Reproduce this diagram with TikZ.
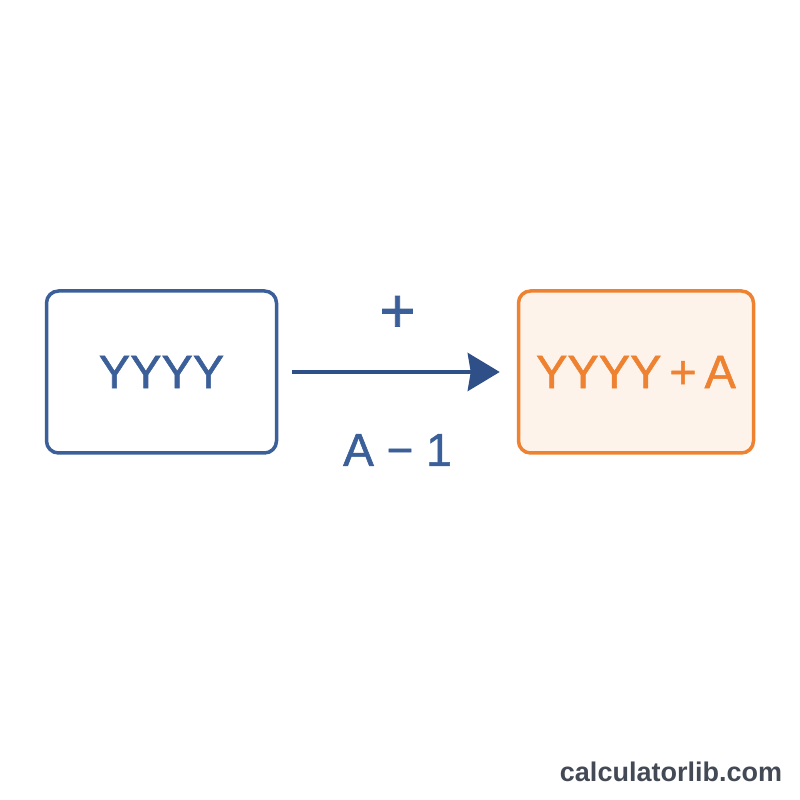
\documentclass[tikz,border=0pt]{standalone}
\usepackage{fontspec}
\setmainfont{Liberation Sans}
\newfontfamily\labelfont{Liberation Sans}[UprightFeatures={FakeBold=1.2}]
\usepackage{xcolor}
\usetikzlibrary{arrows.meta}
\definecolor{boxblue}{HTML}{3B5F98}
\definecolor{arrowblue}{HTML}{2F4F88}
\definecolor{boxorange}{HTML}{EE8230}
\definecolor{fillorange}{HTML}{FEF3EA}
\definecolor{sitegray}{HTML}{434A56}

\begin{document}
\begin{tikzpicture}[x=1pt,y=1pt,every node/.style={rounded corners=12pt, line width=3.5pt, align=center}]
      \useasboundingbox (0,0) rectangle (800,800);
      \node[draw=boxblue, text=boxblue, minimum width=230pt, minimum height=162pt,
            font=\labelfont\fontsize{47}{50}\selectfont] at (161.5, 428) (Year) {YYYY};
      \node[draw=boxorange, fill=fillorange, text=boxorange, minimum width=235pt, minimum height=162pt,
            font=\labelfont\fontsize{47}{50}\selectfont] at (636, 428) (Result) {YYYY\,+\,A};
      \draw[arrowblue, line width=4pt, shorten <=14pt, shorten >=17pt,
            -{Stealth[length=32pt, width=38pt, inset=3pt]}] (Year) -- (Result)
        node[midway, text=boxblue, font=\labelfont\fontsize{62}{64}\selectfont, yshift=58pt] (Plus) {+}
        node[midway, text=boxblue, font=\labelfont\fontsize{46}{50}\selectfont, yshift=-78pt] (Minus) {A \textminus{} 1};
      \node[text=sitegray, font=\bfseries\fontsize{27}{29}\selectfont] at (671, 28) (Site) {calculatorlib.com};
  \end{tikzpicture}
\end{document}
